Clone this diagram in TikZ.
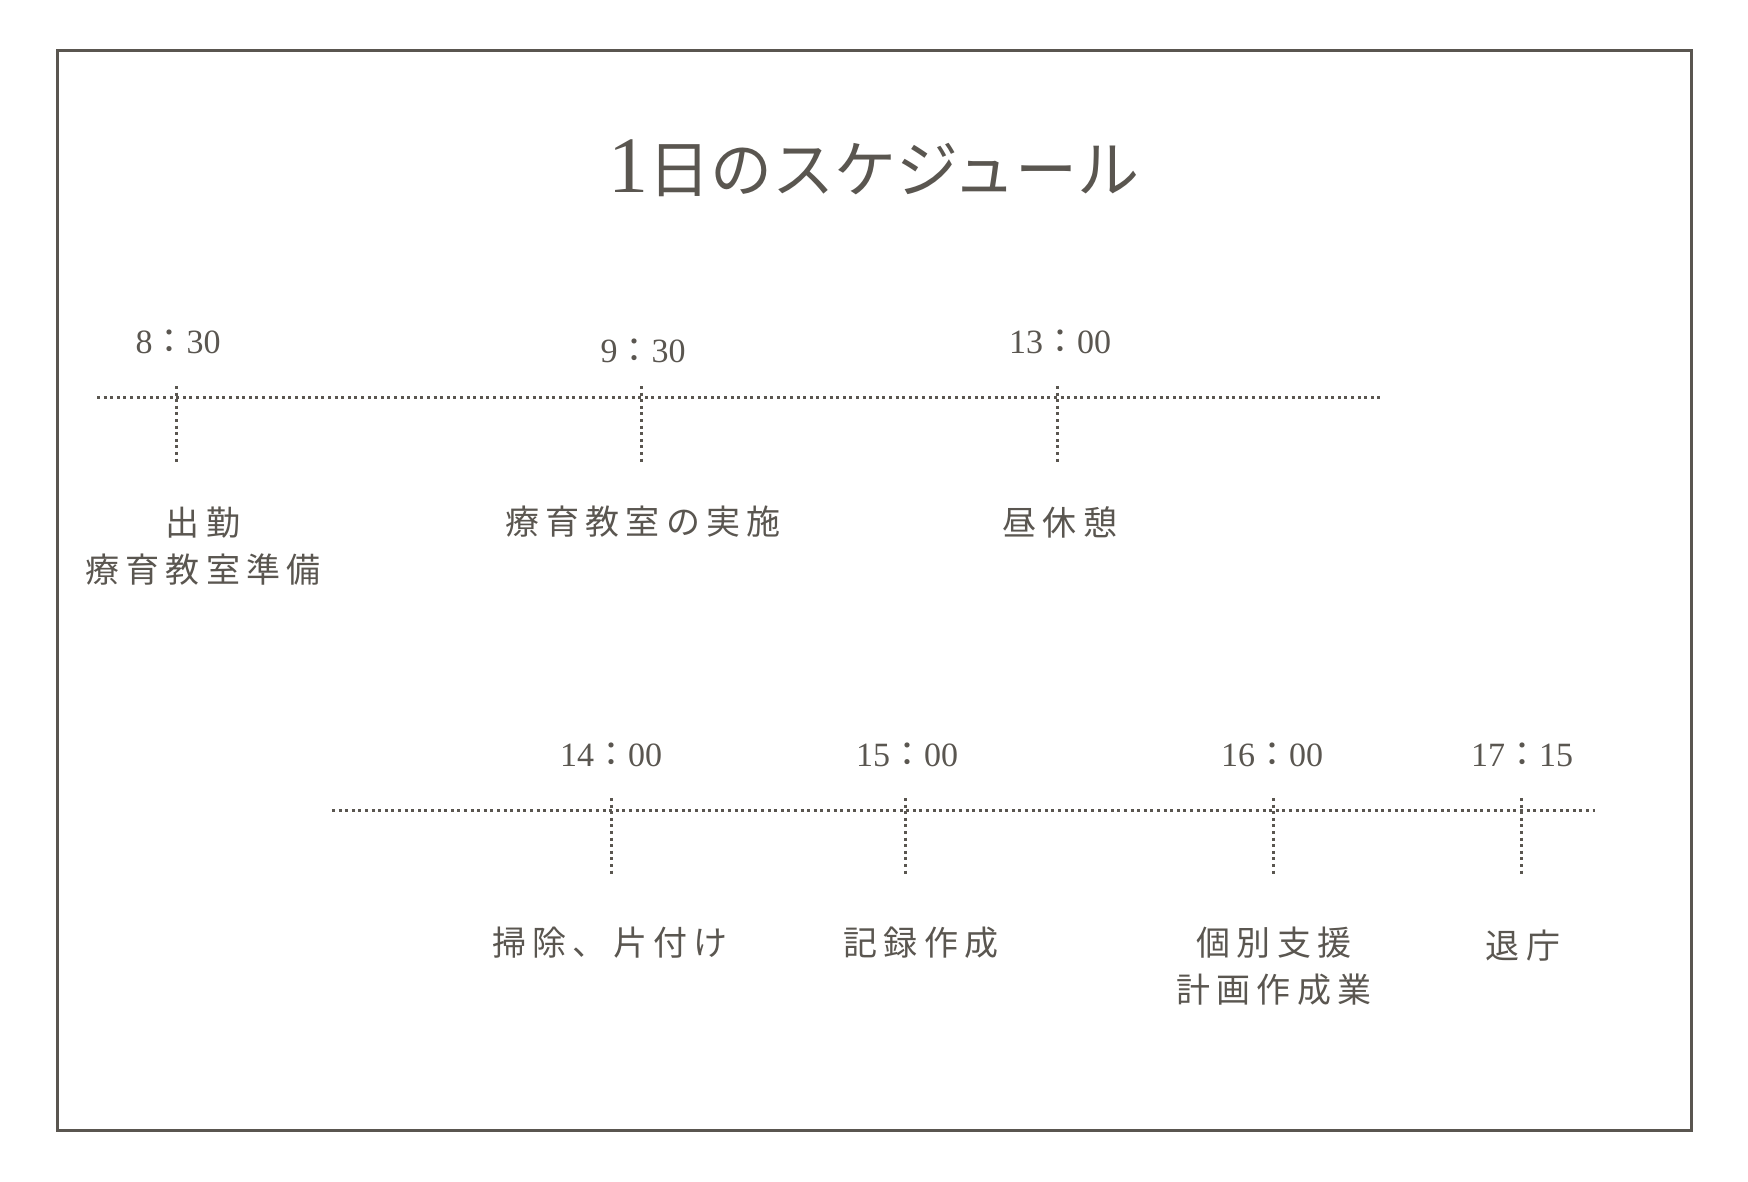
\documentclass[tikz,border=0pt]{standalone}
\usepackage{fontspec}
\setmainfont{Liberation Serif}
\newfontfamily\jp{Noto Sans CJK JP}
\newfontfamily\jpls[LetterSpace=18]{Noto Sans CJK JP}
\definecolor{ink}{HTML}{5A5650}
\newcommand\tc{{\jp ：}}
\begin{document}
\begin{tikzpicture}[x=1pt,y=-1pt,
  frame/.style={draw=ink,line width=3pt},
  dotline/.style={draw=ink,line width=3pt,dash pattern=on 3pt off 3.6pt},
  titletext/.style={text=ink,inner sep=0pt,font=\fontsize{62}{62}\selectfont},
  timetext/.style={text=ink,inner sep=0pt,font=\fontsize{34}{34}\selectfont},
  acttext/.style={text=ink,inner sep=0pt,align=center,font=\jpls\fontsize{34}{47}\selectfont}]
\useasboundingbox (0,0) rectangle (1748,1181);
\fill[white] (0,0) rectangle (1748,1181);
\draw[frame] (57,50) rectangle (1691,1130);

\node[titletext] (title) at (874,168) {{\fontsize{80}{80}\selectfont 1}{\jp 日のスケジュール}};

% top timeline
\coordinate (La) at (97,397);
\coordinate (Lb) at (1380,397);
\draw[dotline] (La) -- (Lb);
\foreach \n/\x in {ta/176,tb/641,tc/1057}{
  \coordinate (\n1) at (\x,386);
  \coordinate (\n2) at (\x,463);
  \draw[dotline] (\n1) -- (\n2);
}
\node[timetext] (m1) at (178,342) {8\tc 30};
\node[timetext] (m2) at (643,351) {9\tc 30};
\node[timetext] (m3) at (1060,342) {13\tc 00};
\node[acttext] (a1) at (203,546) {出勤\\療育教室準備};
\node[acttext] (a2) at (643,522) {療育教室の実施};
\node[acttext] (a3) at (1060,522) {昼休憩};

% bottom timeline
\coordinate (Ma) at (332,810);
\coordinate (Mb) at (1595,810);
\draw[dotline] (Ma) -- (Mb);
\foreach \n/\x in {tp/611,tq/905,tr/1273,ts/1521}{
  \coordinate (\n1) at (\x,798);
  \coordinate (\n2) at (\x,874);
  \draw[dotline] (\n1) -- (\n2);
}
\node[timetext] (m4) at (611,755) {14\tc 00};
\node[timetext] (m5) at (907,755) {15\tc 00};
\node[timetext] (m6) at (1272,755) {16\tc 00};
\node[timetext] (m7) at (1522,755) {17\tc 15};
\node[acttext] (a4) at (610,943) {掃除、片付け};
\node[acttext] (a5) at (921,943) {記録作成};
\node[acttext] (a6) at (1274,966) {個別支援\\計画作成業};
\node[acttext] (a7) at (1523,946) {退庁};
\end{tikzpicture}
\end{document}
